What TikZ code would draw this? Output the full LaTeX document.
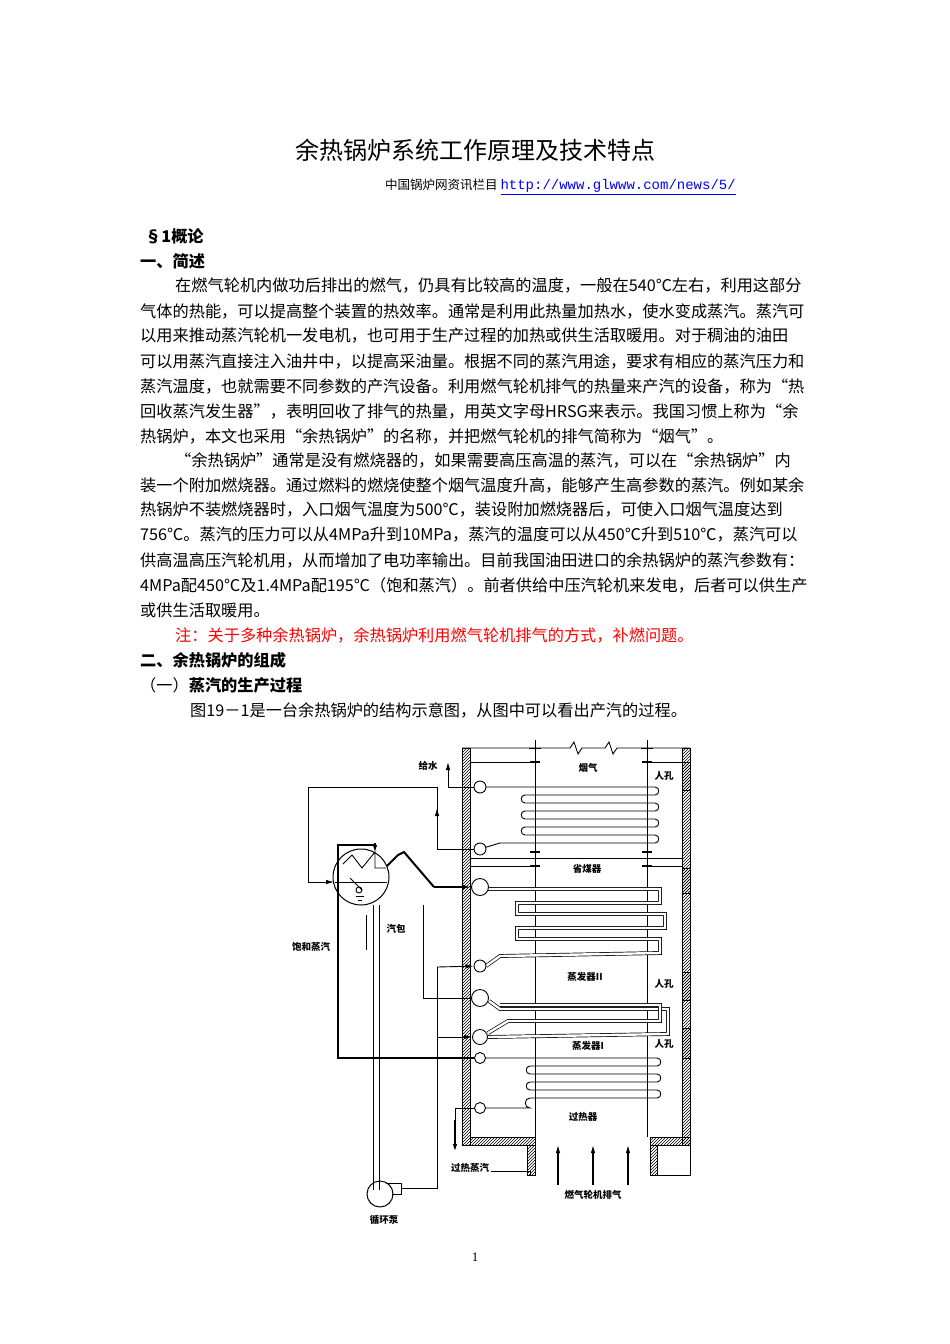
\documentclass[tikz,border=0pt]{standalone}
\usepackage{fontspec}
\setmainfont{Liberation Serif}
\setmonofont{Liberation Mono}
\newfontfamily\cjk{Noto Sans CJK SC}
\usetikzlibrary{patterns,arrows.meta}
\begin{document}
\begin{tikzpicture}[x=1pt,y=-1pt,
  txt/.style={anchor=west,inner sep=0,font=\cjk\fontsize{16.2}{17}\selectfont},
  btxt/.style={txt,font=\cjk\bfseries\fontsize{16.2}{17}\selectfont},
  lab/.style={inner sep=0,font=\cjk\bfseries\fontsize{9.5}{10}\selectfont},
  pipe/.style={line width=0.9pt},
  thick pipe/.style={line width=2pt},
  tube/.style={double=white,double distance=2.4pt,line width=0.7pt},
  hdr/.style={circle,draw,line width=0.9pt,fill=white,inner sep=0},
  wall/.style={draw,line width=0.8pt,pattern=north east lines},
  arr/.style={-{Latex[length=8pt,width=4.5pt]}},
  rb/.style={out=0,in=0,looseness=1.6},
  lb/.style={out=180,in=180,looseness=1.6}]
\useasboundingbox (0,0) rectangle (950,1344);
% ---------- text ----------
\node[font=\cjk\fontsize{24}{26}\selectfont] (title) at (475,150) {余热锅炉系统工作原理及技术特点};
\node[anchor=west,inner sep=0,font=\cjk\fontsize{12.5}{14}\selectfont] (src) at (385,187) {中国锅炉网资讯栏目 \textcolor{blue}{\fontsize{14}{15}\ttfamily\underline{http://www.glwww.com/news/5/}}};
\node[btxt] (s1) at (145,236) {§1概论};
\node[btxt] (s2) at (140,261) {一、简述};
\node[txt] (p1) at (175,286) {在燃气轮机内做功后排出的燃气，仍具有比较高的温度，一般在540℃左右，利用这部分};
\node[txt] (p2) at (140,311) {气体的热能，可以提高整个装置的热效率。通常是利用此热量加热水，使水变成蒸汽。蒸汽可};
\node[txt] (p3) at (140,336) {以用来推动蒸汽轮机一发电机，也可用于生产过程的加热或供生活取暖用。对于稠油的油田};
\node[txt] (p4) at (140,361) {可以用蒸汽直接注入油井中，以提高采油量。根据不同的蒸汽用途，要求有相应的蒸汽压力和};
\node[txt] (p5) at (140,386) {蒸汽温度，也就需要不同参数的产汽设备。利用燃气轮机排气的热量来产汽的设备，称为“热};
\node[txt] (p6) at (140,411) {回收蒸汽发生器”，表明回收了排气的热量，用英文字母HRSG来表示。我国习惯上称为“余};
\node[txt] (p7) at (140,436) {热锅炉，本文也采用“余热锅炉”的名称，并把燃气轮机的排气简称为“烟气”。};
\node[txt] (q1) at (175,460) {“余热锅炉”通常是没有燃烧器的，如果需要高压高温的蒸汽，可以在“余热锅炉”内};
\node[txt] (q2) at (140,485) {装一个附加燃烧器。通过燃料的燃烧使整个烟气温度升高，能够产生高参数的蒸汽。例如某余};
\node[txt] (q3) at (140,510) {热锅炉不装燃烧器时，入口烟气温度为500℃，装设附加燃烧器后，可使入口烟气温度达到};
\node[txt] (q4) at (140,535) {756℃。蒸汽的压力可以从4MPa升到10MPa，蒸汽的温度可以从450℃升到510℃，蒸汽可以};
\node[txt] (q5) at (140,560) {供高温高压汽轮机用，从而增加了电功率输出。目前我国油田进口的余热锅炉的蒸汽参数有：};
\node[txt] (q6) at (140,585) {4MPa配450℃及1.4MPa配195℃（饱和蒸汽）。前者供给中压汽轮机来发电，后者可以供生产};
\node[txt] (q7) at (140,610) {或供生活取暖用。};
\node[txt,text=red] (note) at (175,635) {注：关于多种余热锅炉，余热锅炉利用燃气轮机排气的方式，补燃问题。};
\node[btxt] (s3) at (140,660) {二、余热锅炉的组成};
\node[txt] (s4) at (140,685) {（一）\textbf{蒸汽的生产过程}};
\node[txt] (fig) at (190,710) {图19－1是一台余热锅炉的结构示意图，从图中可以看出产汽的过程。};
\node[font=\fontsize{13}{14}\selectfont] (pg) at (475,1257) {1};
% ---------- boiler casing ----------
\draw[wall] (462,748) rectangle (470,1145);
\draw[wall] (470,1137) rectangle (535,1145);
\draw[wall] (527,1145) rectangle (535,1175);
\draw[wall] (682,748) rectangle (690,1145);
\draw[wall] (650,1137) rectangle (690,1145);
\draw[wall] (650,1145) rectangle (657,1175);
\foreach \ya/\yb in {762/790,868/893,972/1000,1028/1058}
  \draw[wall,line width=1pt] (682,\ya) rectangle (690,\yb);
\draw[pipe] (462,748) -- (570,748) -- (574,742) -- (578,754) -- (582,748) -- (605,748) -- (609,742) -- (613,754) -- (617,748) -- (690,748);
\draw[pipe] (690,1145) -- (690,1175) -- (657,1175);
\draw[pipe] (535,740) -- (535,1137); \draw[pipe] (647,740) -- (647,1137);
\foreach \x in {535,647} { \draw[pipe] (\x-6,748) -- (\x+6,748); \draw[line width=1.4pt] (\x-5,762) -- (\x+5,762);
  \draw[line width=1.4pt] (\x-5,852) -- (\x+5,852); \draw[line width=1.4pt] (\x-5,866) -- (\x+5,866);}
\draw[pipe] (470,762) -- (535,762); \draw[pipe] (647,762) -- (682,762);
\draw[pipe] (470,858) -- (682,858); \draw[pipe] (470,866) -- (535,866); \draw[pipe] (647,866) -- (682,866);
% ---------- coils ----------
\draw[pipe] (480,787) -- (655,787) to[rb] (655,795) -- (525,795) to[lb] (525,803) -- (655,803) to[rb] (655,811) -- (525,811) to[lb] (525,819) -- (655,819) to[rb] (655,827) -- (525,827) to[lb] (525,835) -- (655,835) to[rb] (655,843) -- (500,843) -- (480,849);
\draw[tube] (488,889) -- (660,889) -- (660,903) -- (517,903) -- (517,914) -- (665,914) -- (665,928) -- (517,928) -- (517,939) -- (660,939) -- (660,953) -- (500,956) -- (486,966);
\draw[tube] (489,1001) -- (500,1009) -- (668,1009) -- (668,1034) -- (488,1037);
\draw[tube] (500,1005) -- (660,1005) -- (660,1021) -- (508,1021) -- (488,1033);
\draw[pipe] (480,1058) -- (657,1058) to[rb] (657,1066) -- (530,1066) to[lb] (530,1074) -- (657,1074) to[rb] (657,1082) -- (530,1082) to[lb] (530,1090) -- (657,1090) to[rb] (657,1098) -- (530,1098) to[lb] (530,1108) -- (480,1108);
% headers
\node[hdr,minimum size=12pt] (h1) at (480,787) {};
\node[hdr,minimum size=12pt] (h2) at (480,849) {};
\node[hdr,minimum size=17pt] (h3) at (480,887) {};
\node[hdr,minimum size=12pt] (h4) at (480,966) {};
\node[hdr,minimum size=17pt] (h5) at (480,998) {};
\node[hdr,minimum size=15pt] (h6) at (480,1037) {};
\node[hdr,minimum size=11pt] (h7) at (480,1058) {};
\node[hdr,minimum size=11pt] (h8) at (480,1108) {};
% ---------- drum ----------
\node[circle,draw,line width=1pt,minimum size=56pt,inner sep=0] (drum) at (361,877) {};
\draw[pipe] (335,882) -- (387,882);
\draw[pipe] (343,864) -- (352,855) -- (362,868) -- (375,852) -- (375,868) -- (386,868);
\draw[pipe] (350,878) -- (357,885) -- (362,890); \draw[pipe] (359,890) circle (3);
\draw (356,896) -- (364,896); \draw (358,900) -- (362,900);
\draw[pipe] (373,905) -- (373,1190); \draw[pipe] (379,905) -- (379,1190);
\draw[pipe] (366,915) -- (366,950);
\node[circle,draw,line width=1pt,minimum size=26pt,inner sep=0] (pump) at (380,1194) {};
\draw[pipe] (386,1183) -- (401,1183) -- (401,1194) -- (392,1194);
\draw[pipe] (401,1188) -- (437,1188) -- (437,967);
\draw[pipe,arr] (437,967) -- (h4);
\draw[pipe,arr] (437,1037) -- (h6);
\draw[pipe] (h5) -- (423,998) -- (423,905);
\draw[thick pipe,arr] (375,843) -- (375,853);
\draw[thick pipe] (375,845) -- (338,845) -- (338,1058) -- (h7);
\draw[thick pipe] (387,866) -- (398,855) -- (404,852) -- (434,887);
\draw[thick pipe,arr] (434,887) -- (h3);
\draw[pipe] (h2) -- (437,849) -- (437,787);
\draw[pipe,arr] (437,830) -- (437,808);
\draw[pipe] (437,787) -- (308,787) -- (308,882);
\draw[pipe,arr] (308,882) -- (334,882);
\draw[pipe] (h1) -- (448,787) -- (448,772);
\draw[pipe,arr] (448,776) -- (448,762);
\draw[pipe] (h8) -- (455,1108) -- (455,1125);
\draw[line width=2.5pt,arr] (455,1120) -- (455,1152);
\foreach \x in {558,593,628} \draw[line width=1.1pt,arr] (\x,1185) -- (\x,1145);
% labels
\node[lab] (lfw) at (428,766) {给水};
\node[lab] (lyq) at (588,768) {烟气};
\node[lab] (lsm) at (587,869) {省煤器};
\node[lab] (lz2) at (585,977) {蒸发器II};
\node[lab] (lz1) at (588,1046) {蒸发器I};
\node[lab] (lgr) at (583,1117) {过热器};
\node[lab] (lr1) at (664,776) {人孔};
\node[lab] (lr2) at (664,984) {人孔};
\node[lab] (lr3) at (664,1044) {人孔};
\node[lab] (lqb) at (396,929) {汽包};
\node[lab] (lbh) at (311,947) {饱和蒸汽};
\node[lab] (lxh) at (384,1220) {循环泵};
\node[lab] (lgs) at (470,1168) {过热蒸汽};
\draw[pipe] (lgs.east) ++(2,3) -- (530,1171) -- (530,1175);
\node[lab] (lpq) at (593,1195) {燃气轮机排气};
\end{tikzpicture}
\end{document}
